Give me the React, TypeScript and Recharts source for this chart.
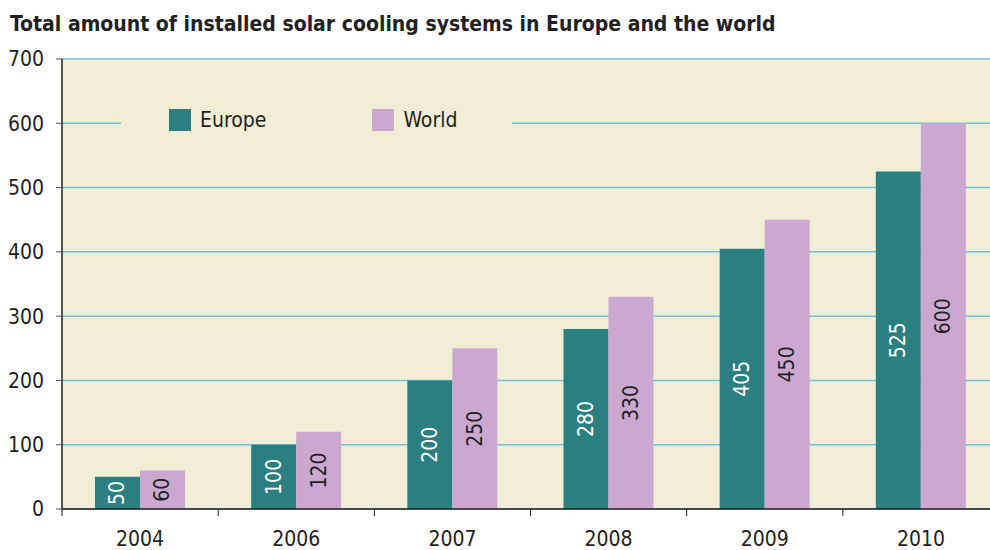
import React from "react";
import { BarChart, Bar, XAxis, YAxis, CartesianGrid, Legend, LabelList } from "recharts";

const years = ["2004", "2006", "2007", "2008", "2009", "2010"];
const europe = [50, 100, 200, 280, 405, 525];
const world = [60, 120, 250, 330, 450, 600];
const yTicks = [0, 100, 200, 300, 400, 500, 600, 700];
const seriesNames = ["Europe", "World"];

const data = years.map((y, i) => ({ year: y, Europe: europe[i], World: world[i] }));

const FONT = "'DejaVu Sans Condensed', 'Noto Sans', sans-serif";
const TEXT = "#231f20";
const EUROPE_COLOR = "#2b7f80";
const WORLD_COLOR = "#cba8d0";
const PLOT_BG = "#f2edd5";
const GRID = "#6fc2dc";
const FS = 21;

const makeLabel = (color: string) => (props: any) => {
  const { x, y, width, height, value } = props;
  const cx = x + width / 2;
  const cy = y + height / 2;
  return (
    <text
      x={cx}
      y={cy}
      transform={`rotate(-90, ${cx}, ${cy})`}
      textAnchor="middle"
      dominantBaseline="central"
      fill={color}
      fontSize={FS}
      fontFamily={FONT}
    >
      {value}
    </text>
  );
};

const XTick = (props: any) => {
  const { x, y, payload } = props;
  const half = payload && payload.offset ? payload.offset : 78;
  return (
    <g>
      <line x1={x - half} x2={x - half} y1={y - 7} y2={y} stroke={TEXT} strokeWidth={1} />
      <text x={x} y={y + 30} textAnchor="middle" fill={TEXT} fontSize={FS} fontFamily={FONT}>
        {payload.value}
      </text>
    </g>
  );
};

const LegendContent = () => {
  const colors = [EUROPE_COLOR, WORLD_COLOR];
  return (
    <div
      style={{
        width: 391,
        height: 26,
        background: PLOT_BG,
        display: "flex",
        alignItems: "center",
        fontFamily: FONT,
        fontSize: FS,
        color: TEXT,
      }}
    >
      {seriesNames.map((n, i) => (
        <div key={n} style={{ display: "flex", alignItems: "center", marginLeft: i === 0 ? 48 : 106 }}>
          <div style={{ width: 22, height: 22, background: colors[i], marginRight: 9 }} />
          <span>{n}</span>
        </div>
      ))}
    </div>
  );
};

export default function App() {
  return (
    <div style={{ position: "absolute", left: 0, top: 0, width: 990, height: 550, overflow: "hidden", background: "#ffffff" }}>
      <div
        style={{
          position: "absolute",
          left: 10,
          top: 10,
          fontFamily: FONT,
          fontWeight: 700,
          fontSize: 21,
          lineHeight: "28px",
          color: TEXT,
          whiteSpace: "nowrap",
          zIndex: 2,
        }}
      >
        Total amount of installed solar cooling systems in Europe and the world
      </div>
      <div style={{ position: "absolute", left: 0, top: 0 }}>
        <BarChart
          width={1000}
          height={550}
          data={data}
          margin={{ top: 59, right: 1, bottom: 0, left: 0 }}
          barSize={45}
          barGap={0}
          style={{ fontFamily: FONT }}
        >
          <CartesianGrid vertical={false} stroke={GRID} strokeWidth={1.5} fill={PLOT_BG} />
          <XAxis
            dataKey="year"
            height={41}
            tickLine={false}
            tickSize={7}
            tickMargin={0}
            axisLine={{ stroke: TEXT, strokeWidth: 1.5 }}
            tick={<XTick />}
            interval={0}
          />
          <YAxis
            width={62}
            domain={[0, 700]}
            ticks={yTicks}
            interval={0}
            tickSize={6}
            tickMargin={12}
            tickLine={{ stroke: "#555555" }}
            axisLine={{ stroke: TEXT, strokeWidth: 1.5 }}
            tick={{ fill: TEXT, fontSize: FS, fontFamily: FONT }}
          />
          <Legend
            layout="vertical"
            align="center"
            verticalAlign="middle"
            content={<LegendContent />}
            wrapperStyle={{ position: "absolute", left: 121, top: 107, width: 391, height: 26 }}
          />
          <Bar dataKey="Europe" fill={EUROPE_COLOR} isAnimationActive={false}>
            <LabelList dataKey="Europe" content={makeLabel("#ffffff")} />
          </Bar>
          <Bar dataKey="World" fill={WORLD_COLOR} isAnimationActive={false}>
            <LabelList dataKey="World" content={makeLabel(TEXT)} />
          </Bar>
        </BarChart>
      </div>
    </div>
  );
}
